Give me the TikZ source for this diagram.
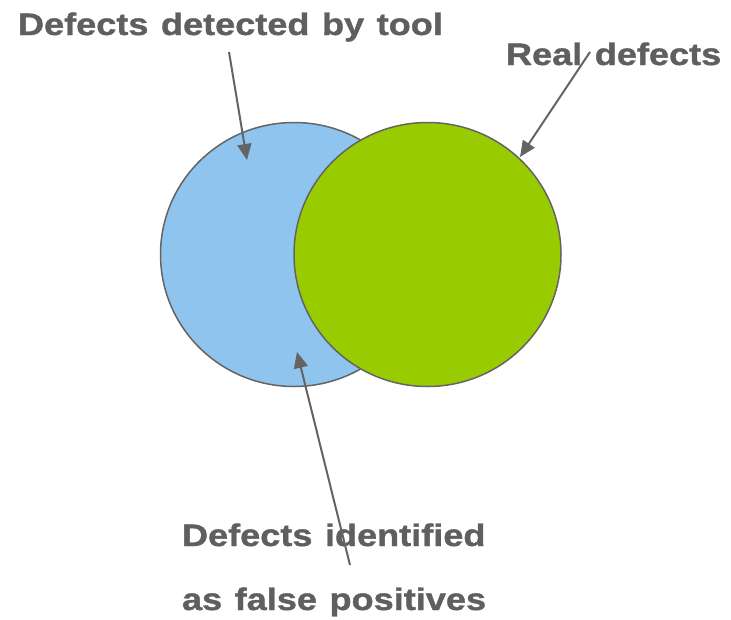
\documentclass[tikz,border=0pt]{standalone}
\usepackage{fontspec}
\newfontfamily\labfont{Liberation Sans}[FakeStretch=1.165,FakeBold=1.2,WordSpace=1.25]
\usetikzlibrary{arrows.meta,shapes.geometric}
\definecolor{txtgray}{RGB}{95,95,95}
\definecolor{linegray}{RGB}{100,100,100}
\definecolor{toolblue}{RGB}{142,196,238}
\definecolor{realgreen}{RGB}{153,204,0}
\begin{document}
\begin{tikzpicture}[x=1pt,y=-1pt,
  lbl/.style={inner sep=0pt,outer sep=0pt,anchor=base west,text=txtgray,
    font=\labfont\bfseries\fontsize{31}{36}\selectfont},
  setcirc/.style={ellipse,draw=linegray,line width=1.5pt,minimum width=267pt,minimum height=264pt,inner sep=0pt},
  pointer/.style={draw=linegray,line width=2pt,-{Triangle[length=16pt,width=14pt]}}]
\useasboundingbox (0,0) rectangle (731,619);
\node[setcirc,fill=toolblue] (tool) at (294,254.5) {};
\node[setcirc,fill=realgreen] (real) at (427.5,254.5) {};
\node[lbl] (ltool) at (18,35) {Defects detected by tool};
\node[lbl] (lreal) at (506,65) {Real defects};
\node[lbl] (lfp1) at (182,546) {Defects identified};
\node[lbl] (lfp2) at (182,610) {as false positives};
\coordinate (s1) at (229,52);
\coordinate (e1) at (247,160);
\coordinate (s2) at (590,52);
\coordinate (e2) at (520,157);
\coordinate (s3) at (350,565);
\coordinate (e3) at (297,352);
\draw[pointer] (s1) -- (e1);
\draw[pointer] (s2) -- (e2);
\draw[pointer] (s3) -- (e3);
\end{tikzpicture}
\end{document}
